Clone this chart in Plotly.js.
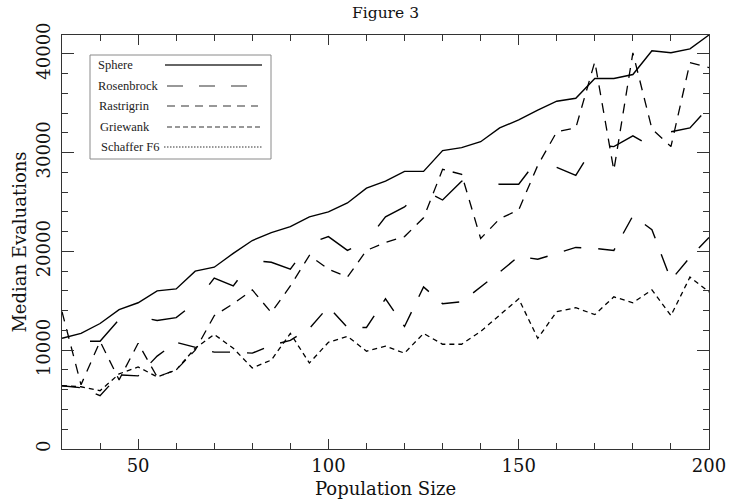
<!DOCTYPE html>
<html>
<head>
<meta charset="utf-8">
<script src="https://cdn.plot.ly/plotly-3.0.1.min.js"></script>
<style>
  html, body { margin: 0; padding: 0; background: #ffffff; }
  #chart { width: 737px; height: 502px; }
</style>
</head>
<body>
<div id="chart"></div>
<script>
// ---- Data ----
const popSize = [30, 35, 40, 45, 50, 55, 60, 65, 70, 75, 80, 85, 90, 95, 100, 105, 110, 115, 120, 125,
                 130, 135, 140, 145, 150, 155, 160, 165, 170, 175, 180, 185, 190, 195, 200];

const sphere = [11200, 11700, 12700, 14100, 14800, 16000, 16200, 18000, 18400, 19800, 21100, 21900, 22500, 23500, 24000, 24900, 26400, 27100, 28100, 28100,
                30200, 30500, 31100, 32500, 33300, 34300, 35200, 35500, 37500, 37500, 37900, 40300, 40100, 40500, 41900];

const rosenbrock = [11000, 10900, 10900, 13100, 13400, 13000, 13300, 14800, 17300, 16500, 19100, 18900, 18200, 20800, 21500, 20100, 21000, 23500, 24500, 26200,
                    25200, 27100, 26900, 26800, 26800, 29300, 28500, 27700, 30800, 30600, 31700, 30600, 32100, 32500, 34600];

const rastrigrin = [6400, 6200, 5400, 7500, 7400, 9400, 10800, 10300, 9800, 9800, 9700, 10500, 11000, 12200, 14400, 12300, 12300, 15200, 12400, 16400,
                    14700, 14900, 16400, 17900, 19500, 19200, 19800, 20400, 20300, 20100, 23600, 22200, 17100, 19400, 21400];

const griewank = [13900, 6500, 10900, 7000, 10700, 7300, 8000, 10000, 13500, 14700, 16100, 13800, 16500, 19600, 18200, 17400, 20100, 20900, 21500, 23400,
                  28300, 27800, 21300, 23300, 24200, 28700, 32100, 32500, 39200, 28200, 40100, 32400, 30600, 39100, 38600];

const schafferF6 = [6400, 6300, 5900, 7600, 8300, 7300, 8000, 10200, 11600, 10200, 8200, 9000, 11700, 8700, 10800, 11400, 9900, 10400, 9700, 11700,
                    10600, 10600, 11900, 13600, 15200, 11200, 13900, 14300, 13600, 15400, 14800, 16100, 13500, 17400, 15900];

const seriesNames = ["Sphere", "Rosenbrock", "Rastrigrin", "Griewank", "Schaffer F6"];
const yTickVals = [0, 10000, 20000, 30000, 40000];
const xTickVals = [50, 100, 150, 200];

// ---- Styles ----
const seriesData = [sphere, rosenbrock, rastrigrin, griewank, schafferF6];
const plotDash = ["solid", "0px,28px,36px,8px", "18px,17px", "10px,8px", "5px,4px"];
const legendDash = ["solid", "16px,16px", "8px,6px", "5px,3px", "1.5px,1.5px"];
const lineWidths = [1.4, 1.4, 1.4, 1.3, 1.3];

const traces = seriesNames.map((name, i) => ({
  type: "scatter",
  mode: "lines",
  name: name,
  x: popSize,
  y: seriesData[i],
  line: { color: "#000000", width: lineWidths[i], dash: plotDash[i] },
  showlegend: false,
  hoverinfo: "skip"
}));

// plot area in pixels (for positioning the hand-drawn legend)
const M = { l: 62, r: 28, t: 35, b: 53 };
const W = 737, H = 502;
const pw = W - M.l - M.r, ph = H - M.t - M.b;
const px = v => (v - M.l) / pw;
const py = v => (H - M.b - v) / ph;

const shapes = [];
const annotations = [];
// legend frame
shapes.push({
  type: "rect", xref: "paper", yref: "paper",
  x0: px(90), x1: px(271), y0: py(159), y1: py(55),
  line: { color: "#8a8a8a", width: 1 }, fillcolor: "rgba(0,0,0,0)"
});
const legRowY = [65, 86, 106, 127, 147];
const legLineX = [[165, 262], [167, 247], [167, 258], [167, 260], [164, 262]];
const legTextX = [96, 96, 97, 98, 99];
seriesNames.forEach((name, i) => {
  annotations.push({
    xref: "paper", yref: "paper", x: px(legTextX[i]), y: py(legRowY[i]),
    xanchor: "left", yanchor: "middle", showarrow: false, text: name,
    font: { family: "Liberation Serif, Times New Roman, serif", size: 12.5, color: "#222222" }
  });
  shapes.push({
    type: "line", xref: "paper", yref: "paper",
    x0: px(legLineX[i][0]), x1: px(legLineX[i][1]), y0: py(legRowY[i]), y1: py(legRowY[i]),
    line: { color: "#333333", width: i === 0 ? 1.3 : 1.1, dash: legendDash[i] }
  });
});

const serif = "DejaVu Serif, serif";
const layout = {
  width: W, height: H,
  margin: M,
  paper_bgcolor: "#ffffff",
  plot_bgcolor: "#ffffff",
  showlegend: false,
  title: {
    text: "Figure 3",
    font: { family: serif, size: 15.5, color: "#111111" },
    x: 0.5, xref: "paper", xanchor: "center",
    y: 1 - 13 / H, yref: "container", yanchor: "middle"
  },
  xaxis: {
    range: [30, 200],
    tickvals: xTickVals,
    ticktext: xTickVals.map(String),
    ticks: "inside", ticklen: 10, tickwidth: 1, tickcolor: "#333333",
    minor: { dtick: 10, tick0: 0, ticks: "inside", ticklen: 6, tickwidth: 1, tickcolor: "#333333" },
    mirror: "allticks", showline: true, linecolor: "#333333", linewidth: 1,
    showgrid: false, zeroline: false,
    tickfont: { family: serif, size: 18, color: "#111111" },
    title: { text: "Population Size", font: { family: serif, size: 18, color: "#111111" }, standoff: 7 },
    automargin: false
  },
  yaxis: {
    range: [0, 41900],
    tickvals: yTickVals,
    ticktext: yTickVals.map(String),
    tickangle: -90,
    ticks: "inside", ticklen: 12, tickwidth: 1, tickcolor: "#333333",
    minor: { dtick: 2000, tick0: 0, ticks: "inside", ticklen: 6, tickwidth: 1, tickcolor: "#333333" },
    mirror: "allticks", showline: true, linecolor: "#333333", linewidth: 1,
    showgrid: false, zeroline: false,
    tickfont: { family: serif, size: 18, color: "#111111" },
    ticklabelstandoff: 4,
    title: { text: "Median Evaluations", font: { family: serif, size: 18, color: "#111111" }, standoff: 1 },
    automargin: false
  },
  shapes: shapes,
  annotations: annotations
};

Plotly.newPlot("chart", traces, layout, { staticPlot: true, displayModeBar: false });
</script>
</body>
</html>
